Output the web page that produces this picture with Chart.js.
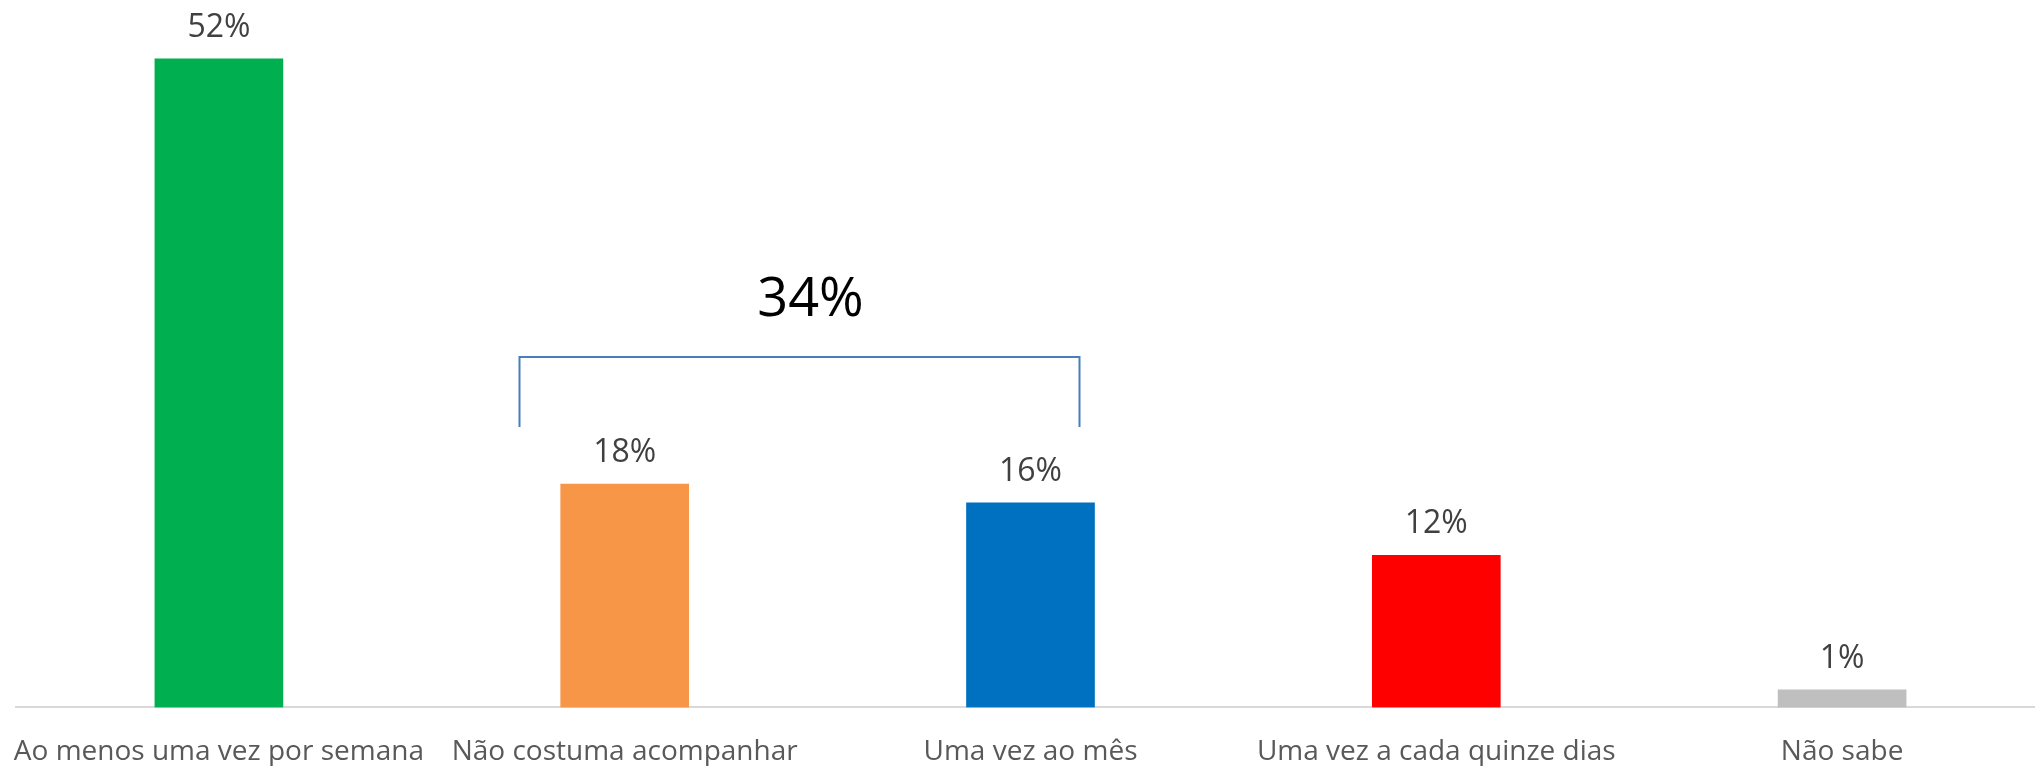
<!DOCTYPE html>
<html>
<head>
<meta charset="utf-8">
<script src="https://cdn.jsdelivr.net/npm/chart.js@4.4.1/dist/chart.umd.min.js"></script>
<style>
  html, body { margin: 0; padding: 0; background: #ffffff; overflow: hidden; }
  #wrap { width: 2045px; height: 796px; }
</style>
</head>
<body>
<div id="wrap"><canvas id="c" width="2045" height="796"></canvas></div>
<script>
// ---- data ----
const categories = [
  'Ao menos uma vez por semana',
  'Não costuma acompanhar',
  'Uma vez ao mês',
  'Uma vez a cada quinze dias',
  'Não sabe'
];
const values = [52, 17.9, 16.4, 12.2, 1.4];
const valueLabels = ['52%', '18%', '16%', '12%', '1%'];
const barColors = ['#00B050', '#F79646', '#0070C0', '#FF0000', '#BFBFBF'];

// bracket grouping "Não costuma acompanhar" + "Uma vez ao mês"
const groupFrom = 1;
const groupTo = 2;
const groupLabel = '34%';
const groupTopValue = 28.1;
const groupBottomValue = 22.5;
const groupTextValue = 31.4;

const valueLabelPlugin = {
  id: 'valueLabels',
  afterDatasetsDraw(chart) {
    const ctx = chart.ctx;
    const meta = chart.getDatasetMeta(0);
    ctx.save();
    ctx.font = '32px "Open Sans"';
    ctx.fillStyle = '#404040';
    ctx.textAlign = 'center';
    ctx.textBaseline = 'alphabetic';
    meta.data.forEach((bar, i) => {
      ctx.fillText(valueLabels[i], bar.x, bar.y - 22);
    });
    ctx.restore();
  }
};

const bracketPlugin = {
  id: 'bracket',
  afterDatasetsDraw(chart) {
    const ctx = chart.ctx;
    const xs = chart.scales.x;
    const ys = chart.scales.y;
    const catW = xs.getPixelForValue(1) - xs.getPixelForValue(0);
    const left = Math.round(xs.getPixelForValue(groupFrom) - 0.261 * catW) + 0.5;
    const right = Math.round(xs.getPixelForValue(groupTo) + 0.12 * catW) + 0.5;
    const top = Math.round(ys.getPixelForValue(groupTopValue));
    const bottom = Math.round(ys.getPixelForValue(groupBottomValue));
    ctx.save();
    ctx.strokeStyle = '#4A7EBB';
    ctx.lineWidth = 2;
    ctx.beginPath();
    ctx.moveTo(left, bottom);
    ctx.lineTo(left, top);
    ctx.lineTo(right, top);
    ctx.lineTo(right, bottom);
    ctx.stroke();
    ctx.font = '54px "Open Sans"';
    ctx.fillStyle = '#000000';
    ctx.textAlign = 'center';
    ctx.textBaseline = 'alphabetic';
    ctx.fillText(groupLabel, (left + right) / 2 + 11, ys.getPixelForValue(groupTextValue));
    ctx.restore();
  }
};

new Chart(document.getElementById('c'), {
  type: 'bar',
  data: {
    labels: categories,
    datasets: [{
      data: values,
      backgroundColor: barColors,
      borderWidth: 0,
      barThickness: 128
    }]
  },
  options: {
    responsive: false,
    animation: false,
    devicePixelRatio: 1,
    layout: { padding: { left: 16, right: 0, top: 9, bottom: 0 } },
    plugins: { legend: { display: false }, tooltip: { enabled: false } },
    scales: {
      x: {
        grid: { display: false, drawTicks: false },
        border: { display: true, color: '#D9D9D9', width: 2 },
        ticks: {
          color: '#595959',
          font: { family: '"Open Sans"', size: 28 },
          padding: 27.5,
          maxRotation: 0,
          autoSkip: false
        },
        afterFit(scale) {
          scale.paddingLeft = 0;
          scale.paddingRight = 0;
        }
      },
      y: {
        display: false,
        min: 0,
        max: 56
      }
    }
  },
  plugins: [valueLabelPlugin, bracketPlugin]
});
</script>
</body>
</html>
